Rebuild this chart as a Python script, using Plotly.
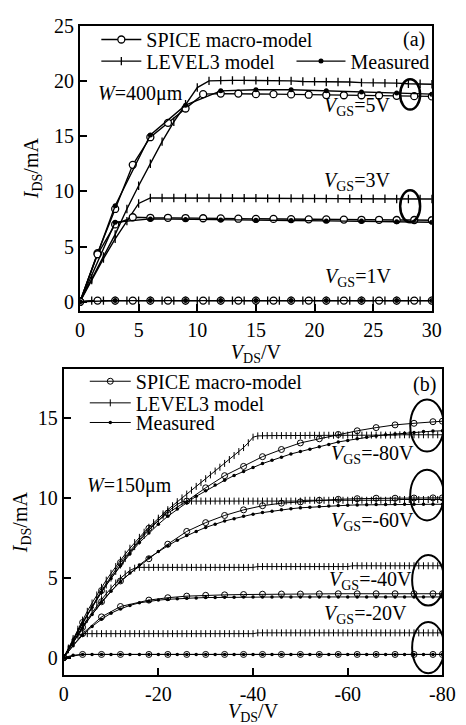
import plotly.graph_objects as go

FONT = "Liberation Serif"

# ---------------- Panel (a): W = 400 um, VGS = 5, 3, 1 V ----------------
A_XTICKS = [0, 5, 10, 15, 20, 25, 30]
A_YTICKS = [0, 5, 10, 15, 20, 25]

A_SPICE_X = [0, 1.5, 3, 4.5, 6, 7.5, 9, 10.5, 12, 13.5, 15, 16.5, 18, 19.5, 21, 22.5, 24, 25.5, 27, 28.5, 30]
A_SPICE_5V = [0, 4.4, 8.4, 12.4, 14.9, 16.2, 17.5, 18.8, 18.85, 18.85, 18.8, 18.8, 18.78, 18.75, 18.72, 18.7, 18.7, 18.68, 18.65, 18.62, 18.6]
A_SPICE_3V = [0, 4.3, 7.0, 7.65, 7.6, 7.6, 7.58, 7.56, 7.55, 7.52, 7.5, 7.5, 7.48, 7.46, 7.45, 7.44, 7.42, 7.42, 7.4, 7.4, 7.38]
A_SPICE_1V = [0, 0.1, 0.1, 0.1, 0.1, 0.1, 0.1, 0.1, 0.1, 0.1, 0.1, 0.1, 0.1, 0.1, 0.1, 0.1, 0.1, 0.1, 0.1, 0.1, 0.1]

A_L3_X = [0, 1, 2, 3, 4, 5, 6, 7, 8, 9, 10, 11, 12, 13, 14, 15, 16, 17, 18, 19, 20,
          21, 22, 23, 24, 25, 26, 27, 28, 29, 30]
A_L3_5V = [0, 2.1, 4.1, 6.1, 8.4, 10.5, 12.5, 14.5, 16.3, 17.9, 19.4, 20.0, 20.05, 20.05, 20.05, 20.05,
           20.0, 20.0, 20.0, 19.95, 19.95, 19.9, 19.9, 19.9, 19.85, 19.85, 19.8, 19.8, 19.75, 19.75, 19.7]
A_L3_3V = [0, 1.95, 3.9, 5.7, 7.3, 8.9, 9.4, 9.4, 9.4, 9.4, 9.4, 9.4, 9.4, 9.38, 9.38, 9.38,
           9.36, 9.36, 9.36, 9.35, 9.35, 9.34, 9.34, 9.33, 9.33, 9.32, 9.32, 9.31, 9.31, 9.3, 9.3]
A_L3_1V = [0, 0.1, 0.1, 0.1, 0.1, 0.1, 0.1, 0.1, 0.1, 0.1, 0.1, 0.1, 0.1, 0.1, 0.1, 0.1,
           0.1, 0.1, 0.1, 0.1, 0.1, 0.1, 0.1, 0.1, 0.1, 0.1, 0.1, 0.1, 0.1, 0.1, 0.1]

A_MEAS_X = [0, 3, 6, 9, 12, 15, 18, 21, 24, 27, 30]
A_MEAS_5V = [0, 8.7, 15.1, 17.8, 19.1, 19.2, 19.2, 19.1, 19.0, 18.9, 18.8]
A_MEAS_3V = [0, 7.2, 7.5, 7.45, 7.4, 7.38, 7.35, 7.32, 7.3, 7.25, 7.2]
A_MEAS_1V = [0, 0.1, 0.1, 0.1, 0.1, 0.1, 0.1, 0.1, 0.1, 0.1, 0.1]

# ---------------- Panel (b): W = 150 um, VGS = -80, -60, -40, -20 V ----------------
B_XTICKS = [0, -20, -40, -60, -80]
B_XTICKTEXT = ["0", "-20", "-40", "-60", "-80"]
B_YTICKS = [0, 5, 10, 15]

B_SPICE_X = [0, -4, -8, -12, -18, -22, -26, -30, -34, -38, -42, -46, -50, -54, -58, -62, -66, -70, -74, -78, -80]
B_SPICE_80 = [0, 2.2, 4.2, 5.95, 8.1, 9.05, 9.8, 10.63, 11.39, 11.97, 12.58, 13.03, 13.44, 13.7, 13.97, 14.2, 14.4, 14.57, 14.67, 14.77, 14.8]
B_SPICE_60 = [0, 1.9, 3.5, 4.8, 6.19, 7.1, 7.9, 8.45, 8.9, 9.25, 9.51, 9.67, 9.75, 9.85, 9.91, 9.95, 9.98, 9.98, 9.99, 10.0, 10.0]
B_SPICE_40 = [0, 1.5, 2.55, 3.2, 3.6, 3.75, 3.85, 3.9, 3.93, 3.95, 3.97, 3.98, 3.98, 3.99, 4.0, 4.0, 4.0, 4.0, 4.0, 4.0, 4.0]
B_SPICE_20 = [0, 0.2, 0.2, 0.2, 0.2, 0.2, 0.2, 0.2, 0.2, 0.2, 0.2, 0.2, 0.2, 0.2, 0.2, 0.2, 0.2, 0.2, 0.2, 0.2, 0.2]

B_L3_X = [0, -1, -2, -3, -4, -5, -6, -7, -8, -9,
          -10, -11, -12, -13, -14, -15, -16, -17, -18, -19,
          -20, -21, -22, -23, -24, -25, -26, -27, -28, -29,
          -30, -31, -32, -33, -34, -35, -36, -37, -38, -39,
          -40, -41, -42, -43, -44, -45, -46, -47, -48, -49,
          -50, -51, -52, -53, -54, -55, -56, -57, -58, -59,
          -60, -61, -62, -63, -64, -65, -66, -67, -68, -69,
          -70, -71, -72, -73, -74, -75, -76, -77, -78, -79,
          -80]
B_L3_80 = [0, 0.6, 1.2, 1.78, 2.35, 2.9, 3.42, 3.92, 4.4, 4.85,
           5.28, 5.7, 6.1, 6.48, 6.85, 7.2, 7.53, 7.85, 8.16, 8.45,
           8.73, 9.0, 9.26, 9.51, 9.76, 10.0, 10.24, 10.48, 10.72, 10.96,
           11.2, 11.44, 11.68, 11.92, 12.16, 12.4, 12.65, 12.9, 13.15, 13.45,
           13.8, 13.88, 13.9, 13.9, 13.9, 13.9, 13.9, 13.9, 13.9, 13.9,
           13.9, 13.9, 13.92, 13.92, 13.92, 13.92, 13.92, 13.92, 13.92, 13.92,
           13.93, 13.93, 13.93, 13.93, 13.93, 13.93, 13.93, 13.93, 13.93, 13.93,
           13.93, 13.95, 13.95, 13.95, 13.95, 13.95, 13.95, 13.95, 13.95, 13.95,
           13.95]
B_L3_60 = [0, 0.55, 1.1, 1.63, 2.15, 2.65, 3.15, 3.63, 4.1, 4.55,
           4.98, 5.4, 5.8, 6.2, 6.58, 6.95, 7.3, 7.65, 7.98, 8.3,
           8.6, 8.88, 9.15, 9.4, 9.6, 9.75, 9.8, 9.8, 9.8, 9.8,
           9.8, 9.8, 9.8, 9.8, 9.8, 9.8, 9.8, 9.8, 9.8, 9.8,
           9.8, 9.8, 9.8, 9.8, 9.8, 9.8, 9.8, 9.8, 9.8, 9.8,
           9.8, 9.85, 9.85, 9.85, 9.85, 9.85, 9.85, 9.85, 9.85, 9.85,
           9.85, 9.85, 9.85, 9.85, 9.85, 9.85, 9.85, 9.85, 9.85, 9.85,
           9.85, 9.9, 9.9, 9.9, 9.9, 9.9, 9.9, 9.9, 9.9, 9.9,
           9.9]
B_L3_40 = [0, 0.5, 1.0, 1.48, 1.95, 2.4, 2.83, 3.24, 3.63, 4.0,
           4.35, 4.67, 4.97, 5.24, 5.46, 5.6, 5.65, 5.65, 5.65, 5.65,
           5.65, 5.65, 5.65, 5.65, 5.65, 5.65, 5.65, 5.65, 5.65, 5.65,
           5.65, 5.65, 5.65, 5.65, 5.65, 5.65, 5.65, 5.65, 5.65, 5.65,
           5.65, 5.7, 5.7, 5.7, 5.7, 5.7, 5.7, 5.7, 5.7, 5.7,
           5.7, 5.7, 5.7, 5.7, 5.7, 5.7, 5.7, 5.7, 5.7, 5.7,
           5.7, 5.75, 5.75, 5.75, 5.75, 5.75, 5.75, 5.75, 5.75, 5.75,
           5.75, 5.75, 5.75, 5.75, 5.75, 5.75, 5.75, 5.75, 5.75, 5.75,
           5.75]
B_L3_20 = [0, 0.5, 1.0, 1.4, 1.5, 1.5, 1.5, 1.5, 1.5, 1.5,
           1.5, 1.5, 1.5, 1.5, 1.5, 1.5, 1.5, 1.5, 1.5, 1.5,
           1.5, 1.5, 1.5, 1.5, 1.5, 1.5, 1.5, 1.5, 1.5, 1.5,
           1.5, 1.5, 1.5, 1.5, 1.5, 1.5, 1.5, 1.5, 1.5, 1.5,
           1.5, 1.55, 1.55, 1.55, 1.55, 1.55, 1.55, 1.55, 1.55, 1.55,
           1.55, 1.55, 1.55, 1.55, 1.55, 1.55, 1.55, 1.55, 1.55, 1.55,
           1.55, 1.55, 1.55, 1.55, 1.55, 1.55, 1.55, 1.55, 1.55, 1.55,
           1.55, 1.55, 1.55, 1.55, 1.55, 1.55, 1.55, 1.55, 1.55, 1.55,
           1.55]

B_MEAS_X = [0, -2, -4, -6, -8, -10, -12, -14, -16, -18,
            -20, -22, -24, -26, -28, -30, -32, -34, -36, -38,
            -40, -42, -44, -46, -48, -50, -52, -54, -56, -58,
            -60, -62, -64, -66, -68, -70, -72, -74, -76, -78,
            -80]
B_MEAS_80 = [0, 1.1, 2.15, 3.15, 4.1, 4.95, 5.75, 6.5, 7.2, 7.8,
             8.35, 8.85, 9.3, 9.7, 10.1, 10.45, 10.8, 11.1, 11.4, 11.65,
             11.9, 12.15, 12.35, 12.55, 12.75, 12.9, 13.05, 13.2, 13.35, 13.5,
             13.6, 13.7, 13.8, 13.88, 13.95, 14.0, 14.05, 14.1, 14.15, 14.18,
             14.2]
B_MEAS_60 = [0, 0.95, 1.85, 2.7, 3.45, 4.15, 4.75, 5.3, 5.8, 6.25,
             6.65, 7.0, 7.35, 7.65, 7.9, 8.15, 8.35, 8.55, 8.7, 8.85,
             8.98, 9.08, 9.17, 9.25, 9.32, 9.38, 9.42, 9.46, 9.5, 9.52,
             9.54, 9.56, 9.57, 9.58, 9.59, 9.6, 9.6, 9.6, 9.6, 9.6,
             9.6]
B_MEAS_40 = [0, 0.75, 1.4, 1.95, 2.4, 2.78, 3.05, 3.27, 3.43, 3.53,
             3.6, 3.65, 3.69, 3.72, 3.74, 3.76, 3.77, 3.78, 3.78, 3.79,
             3.79, 3.8, 3.8, 3.8, 3.8, 3.8, 3.8, 3.8, 3.8, 3.8,
             3.8, 3.8, 3.8, 3.8, 3.8, 3.8, 3.8, 3.8, 3.8, 3.8,
             3.8]
B_MEAS_20 = [0, 0.15, 0.2, 0.2, 0.2, 0.2, 0.2, 0.2, 0.2, 0.2,
             0.2, 0.2, 0.2, 0.2, 0.2, 0.2, 0.2, 0.2, 0.2, 0.2,
             0.2, 0.2, 0.2, 0.2, 0.2, 0.2, 0.2, 0.2, 0.2, 0.2,
             0.2, 0.2, 0.2, 0.2, 0.2, 0.2, 0.2, 0.2, 0.2, 0.2,
             0.2]

SERIES_NAMES = ["SPICE macro-model", "LEVEL3 model", "Measured"]

# ---------------- styles ----------------
STYLE = {
    ("a", "spice"): dict(line_w=1.4, marker=dict(symbol="circle", size=7, color="white",
                                                   line=dict(color="black", width=1.3))),
    ("a", "l3"): dict(line_w=1.4, marker=dict(symbol="line-ns-open", size=6, color="black",
                                                line=dict(color="black", width=1.3))),
    ("a", "meas"): dict(line_w=1.4, marker=dict(symbol="circle", size=5, color="black",
                                                  line=dict(width=0))),
    ("b", "spice"): dict(line_w=1.0, marker=dict(symbol="circle-open", size=6, color="black",
                                                   line=dict(color="black", width=1.0))),
    ("b", "l3"): dict(line_w=1.0, marker=dict(symbol="line-ns-open", size=5, color="black",
                                                line=dict(color="black", width=1.0))),
    ("b", "meas"): dict(line_w=1.0, marker=dict(symbol="circle", size=3.5, color="black",
                                                  line=dict(width=0))),
}

fig = go.Figure()


def add(panel, kind, name, x, y, legend, show):
    st = STYLE[(panel, kind)]
    xa, ya = ("x", "y") if panel == "a" else ("x2", "y2")
    fig.add_trace(go.Scatter(
        x=x, y=y, xaxis=xa, yaxis=ya, mode="lines+markers", name=name,
        line=dict(color="black", width=st["line_w"]), marker=st["marker"],
        legend=legend, showlegend=show, cliponaxis=True,
    ))


# Panel (a)
for i, (ys, ym, yl) in enumerate([(A_SPICE_5V, A_MEAS_5V, A_L3_5V),
                                   (A_SPICE_3V, A_MEAS_3V, A_L3_3V),
                                   (A_SPICE_1V, A_MEAS_1V, A_L3_1V)]):
    add("a", "l3", SERIES_NAMES[1], A_L3_X, yl, "legend2", i == 0)
    add("a", "spice", SERIES_NAMES[0], A_SPICE_X, ys, "legend", i == 0)
    add("a", "meas", SERIES_NAMES[2], A_MEAS_X, ym, "legend6", i == 0)

# Panel (b)
for i, (ys, ym, yl) in enumerate([(B_SPICE_80, B_MEAS_80, B_L3_80),
                                   (B_SPICE_60, B_MEAS_60, B_L3_60),
                                   (B_SPICE_40, B_MEAS_40, B_L3_40),
                                   (B_SPICE_20, B_MEAS_20, B_L3_20)]):
    add("b", "l3", SERIES_NAMES[1], B_L3_X, yl, "legend4", i == 0)
    add("b", "spice", SERIES_NAMES[0], B_SPICE_X, ys, "legend3", i == 0)
    add("b", "meas", SERIES_NAMES[2], B_MEAS_X, ym, "legend5", i == 0)

W, H = 466, 725

axis_common = dict(showline=True, linewidth=2, linecolor="black", mirror=True,
                   ticks="inside", ticklen=7, tickwidth=2, tickcolor="black",
                   showgrid=False, zeroline=False,
                   tickfont=dict(family=FONT, size=20, color="black"))


def leg(px, py, iw):
    return dict(x=px / W, xanchor="left", y=1 - py / H, yanchor="middle",
                orientation="v", itemwidth=iw, bgcolor="rgba(0,0,0,0)", borderwidth=0,
                font=dict(family=FONT, size=20, color="black"), tracegroupgap=0)


fig.update_layout(
    width=W, height=H, margin=dict(l=0, r=0, t=0, b=0),
    paper_bgcolor="white", plot_bgcolor="white",
    font=dict(family=FONT, size=20, color="black"),
    xaxis=dict(axis_common, domain=[78 / W, 444 / W], range=[0, 30], tickvals=A_XTICKS,
               anchor="y", title=dict(text="<i>V</i><sub>DS</sub>/V", font=dict(size=20), standoff=3)),
    yaxis=dict(axis_common, domain=[420 / H, 710 / H], range=[-0.8, 25], tickvals=A_YTICKS,
               anchor="x", title=dict(text="<i>I</i><sub>DS</sub>/mA", font=dict(size=20), standoff=10)),
    xaxis2=dict(axis_common, domain=[61 / W, 455 / W], range=[0, -80], tickvals=B_XTICKS,
                ticktext=B_XTICKTEXT, anchor="y2",
                title=dict(text="<i>V</i><sub>DS</sub>/V", font=dict(size=20), standoff=4)),
    yaxis2=dict(axis_common, domain=[49 / H, 360 / H], range=[-1.08, 18.04], tickvals=B_YTICKS,
                anchor="x2", title=dict(text="<i>I</i><sub>DS</sub>/mA", font=dict(size=20), standoff=5)),
    legend=leg(95, 29, 40),
    legend2=leg(95, 51, 40),
    legend6=leg(298, 51, 49),
    legend3=leg(83, 377, 41),
    legend4=leg(83, 399, 41),
    legend5=leg(83, 419, 41),
)

# Ellipses marking the saturation region
ELLIPSES_A = [(27.3, 29.0, 17.4, 20.15), (27.3, 29.0, 7.2, 10.1)]
ELLIPSES_B = [(-73.2, -80.3, 12.9, 16.16), (-73.2, -80.3, 8.59, 11.76),
              (-73.6, -80.4, 3.26, 6.43), (-73.6, -80.4, -0.98, 2.23)]
for x0, x1, y0, y1 in ELLIPSES_A:
    fig.add_shape(type="circle", xref="x", yref="y", x0=x0, x1=x1, y0=y0, y1=y1,
                  line=dict(color="black", width=2.5))
for x0, x1, y0, y1 in ELLIPSES_B:
    fig.add_shape(type="circle", xref="x2", yref="y2", x0=x0, x1=x1, y0=y0, y1=y1,
                  line=dict(color="black", width=2))

# Text labels
LABELS = [
    ("x", "y", 29.6, 23.75, "(a)", "right"),
    ("x", "y", 1.4, 18.9, "<i>W</i>=400μm", "left"),
    ("x", "y", 20.6, 17.7, "<i>V</i><sub>GS</sub>=5V", "left"),
    ("x", "y", 20.6, 10.85, "<i>V</i><sub>GS</sub>=3V", "left"),
    ("x", "y", 20.7, 2.15, "<i>V</i><sub>GS</sub>=1V", "left"),
    ("x2", "y2", -79.0, 17.1, "(b)", "right"),
    ("x2", "y2", -4.5, 10.77, "<i>W</i>=150μm", "left"),
    ("x2", "y2", -56.0, 12.7, "<i>V</i><sub>GS</sub>=-80V", "left"),
    ("x2", "y2", -56.0, 8.5, "<i>V</i><sub>GS</sub>=-60V", "left"),
    ("x2", "y2", -55.6, 4.82, "<i>V</i><sub>GS</sub>=-40V", "left"),
    ("x2", "y2", -54.6, 2.67, "<i>V</i><sub>GS</sub>=-20V", "left"),
]
for xr, yr, x, y, t, xa in LABELS:
    fig.add_annotation(xref=xr, yref=yr, x=x, y=y, text=t, showarrow=False,
                       xanchor=xa, yanchor="middle",
                       font=dict(family=FONT, size=20, color="black"))

fig.write_html("out.html", config={"displayModeBar": False},
               post_script="document.body.style.margin='0';")
